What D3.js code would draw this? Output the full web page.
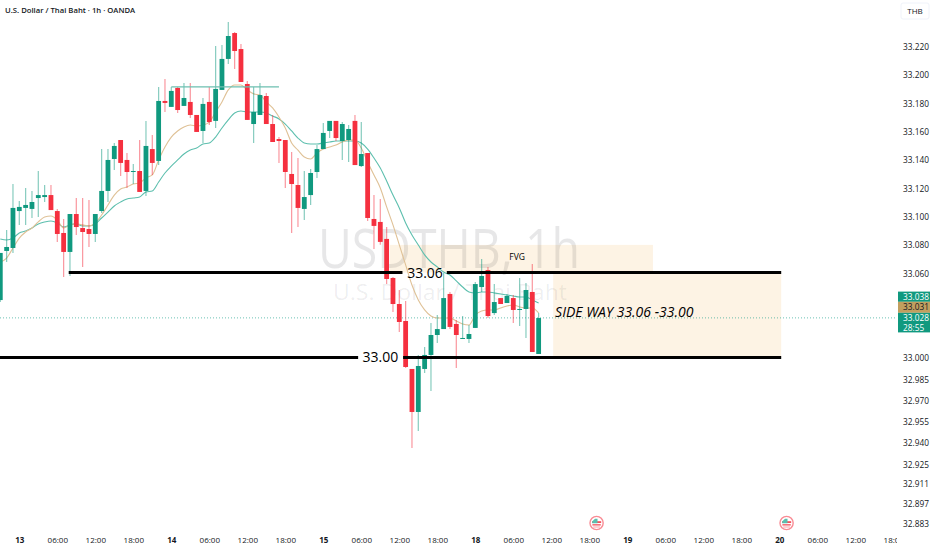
<!DOCTYPE html>
<html lang="en">
<head>
<meta charset="UTF-8">
<title>USDTHB 1h</title>
<script src="https://d3js.org/d3.v7.min.js"></script>
<style>
  html, body { margin: 0; padding: 0; background: #fff; }
  svg { display: block; }
  text { font-family: "Open Sans", "Noto Sans", sans-serif; }
</style>
</head>
<body>
<script>
// hourly candles
var opens = [33.0406,33.0753,33.0774,33.1035,33.1057,33.1050,33.1127,33.1134,33.1148,33.1035,33.0880,33.0746,33.1014,33.0915,33.0908,33.0873,33.1035,33.1177,33.1403,33.1537,33.1396,33.1311,33.1318,33.1177,33.1473,33.1389,33.1813,33.1771,33.1905,33.1778,33.1806,33.1714,33.1601,33.1806,33.1672,33.1891,33.2110,33.2293,33.2180,33.1933,33.1650,33.1714,33.1848,33.1650,33.1544,33.1537,33.1297,33.1219,33.1050,33.1148,33.1311,33.1473,33.1601,33.1672,33.1530,33.1537,33.1672,33.1353,33.1445,33.0979,33.0958,33.0838,33.0562,33.0378,33.0258,32.9919,32.9615,32.9919,33.0018,33.0159,33.0201,33.0449,33.0237,33.0131,33.0131,33.0209,33.0498,33.0618,33.0314,33.0420,33.0385,33.0420,33.0336,33.0343,33.0463,33.0025];
var highs = [33.0739,33.0901,33.1226,33.1106,33.1198,33.1177,33.1318,33.1219,33.1219,33.1050,33.0979,33.1014,33.1127,33.1127,33.1113,33.1014,33.1473,33.1473,33.1516,33.1537,33.1445,33.1367,33.1537,33.1672,33.1572,33.1912,33.1969,33.1912,33.1912,33.1940,33.1940,33.1714,33.1834,33.1912,33.2201,33.2208,33.2371,33.2300,33.2216,33.1954,33.1912,33.1940,33.1869,33.1714,33.1558,33.1537,33.1452,33.1410,33.1318,33.1332,33.1502,33.1657,33.1672,33.1672,33.1664,33.1643,33.1714,33.1664,33.1445,33.1148,33.1120,33.0922,33.0569,33.0477,33.0399,32.9919,33.0018,33.0074,33.0244,33.0300,33.0597,33.0463,33.0265,33.0293,33.0230,33.0534,33.0696,33.0640,33.0519,33.0420,33.0449,33.0442,33.0562,33.0526,33.0661,33.0314];
var lows = [33.0392,33.0675,33.0739,33.0937,33.0937,33.0986,33.0993,33.1099,33.1042,33.0817,33.0569,33.0576,33.0866,33.0640,33.0781,33.0817,33.1021,33.1099,33.1325,33.1283,33.1198,33.1226,33.1170,33.1142,33.1290,33.1360,33.1735,33.1771,33.1728,33.1778,33.1693,33.1594,33.1516,33.1643,33.1622,33.1891,33.2075,33.2039,33.1947,33.1679,33.1516,33.1714,33.1650,33.1523,33.1375,33.1198,33.0880,33.0922,33.0972,33.1078,33.1269,33.1473,33.1551,33.1530,33.1396,33.1382,33.1360,33.1346,33.0965,33.0767,33.0796,33.0520,33.0322,33.0180,32.9926,32.9360,32.9480,32.9890,32.9763,33.0102,33.0201,33.0201,32.9926,33.0131,33.0102,33.0209,33.0463,33.0279,33.0300,33.0378,33.0385,33.0244,33.0223,33.0138,33.0039,33.0025];
var closes = [33.0739,33.0781,33.1057,33.1064,33.1078,33.1099,33.1148,33.1148,33.1042,33.0873,33.0746,33.1014,33.0922,33.0887,33.0873,33.1014,33.1177,33.1396,33.1495,33.1375,33.1311,33.1318,33.1170,33.1495,33.1375,33.1813,33.1799,33.1884,33.1749,33.1834,33.1714,33.1594,33.1792,33.1664,33.1898,33.2110,33.2272,33.2166,33.1947,33.1679,33.1735,33.1855,33.1650,33.1523,33.1530,33.1311,33.1226,33.1057,33.1134,33.1304,33.1473,33.1587,33.1672,33.1551,33.1650,33.1615,33.1360,33.1438,33.0986,33.0930,33.0817,33.0555,33.0378,33.0251,32.9933,32.9615,32.9940,33.0018,33.0159,33.0201,33.0420,33.0216,33.0159,33.0138,33.0166,33.0519,33.0576,33.0293,33.0392,33.0378,33.0435,33.0336,33.0343,33.0477,33.0039,33.0279];

// the two moving averages
var maFast = [33.0675,33.0703,33.0774,33.0844,33.0887,33.0915,33.0958,33.0993,33.1000,33.0972,33.0915,33.0937,33.0944,33.0937,33.0930,33.0951,33.1007,33.1078,33.1148,33.1191,33.1205,33.1226,33.1233,33.1269,33.1290,33.1396,33.1488,33.1558,33.1601,33.1629,33.1643,33.1636,33.1643,33.1664,33.1735,33.1806,33.1891,33.1926,33.1926,33.1891,33.1863,33.1855,33.1806,33.1764,33.1700,33.1622,33.1516,33.1466,33.1417,33.1403,33.1445,33.1473,33.1488,33.1502,33.1523,33.1537,33.1537,33.1480,33.1382,33.1290,33.1198,33.1064,33.0937,33.0796,33.0654,33.0512,33.0406,33.0336,33.0293,33.0279,33.0279,33.0279,33.0258,33.0237,33.0230,33.0300,33.0329,33.0336,33.0336,33.0350,33.0364,33.0371,33.0357,33.0350,33.0350,33.0315];
var maSlow = [33.0837,33.0830,33.0844,33.0880,33.0894,33.0915,33.0944,33.0958,33.0965,33.0951,33.0922,33.0937,33.0944,33.0930,33.0930,33.0944,33.0986,33.1028,33.1071,33.1099,33.1120,33.1127,33.1134,33.1170,33.1177,33.1240,33.1304,33.1353,33.1396,33.1438,33.1466,33.1480,33.1509,33.1516,33.1558,33.1622,33.1679,33.1728,33.1742,33.1735,33.1735,33.1735,33.1728,33.1707,33.1686,33.1650,33.1601,33.1551,33.1516,33.1509,33.1509,33.1516,33.1523,33.1530,33.1530,33.1530,33.1530,33.1516,33.1473,33.1410,33.1339,33.1247,33.1148,33.1057,33.0951,33.0866,33.0795,33.0725,33.0675,33.0640,33.0604,33.0583,33.0541,33.0498,33.0463,33.0456,33.0463,33.0463,33.0456,33.0449,33.0442,33.0435,33.0428,33.0428,33.0406,33.0385];

// axis labels
var priceTicks = [33.22,33.2,33.18,33.16,33.14,33.12,33.1,33.08,33.06,33.0,32.985,32.97,32.955,32.94,32.925,32.911,32.897,32.883];
var timeBars = [3,9,15,21,27,33,39,45,51,57,63,69,75,81,87,93,99,105,111,117,123,129,135,141];
var timeLabels = ["13","06:00","12:00","18:00","14","06:00","12:00","18:00","15","06:00","12:00","18:00","18","06:00","12:00","18:00","19","06:00","12:00","18:00","20","06:00","12:00","18:00"];
var dayLabels = ["13","14","15","18","19","20"];

// US flag events on the time line
var eventBars = [94.15, 124.15];

// price tags on the right
var lastClose = 33.028;
var tagTexts = ["33.038","33.031"];
var countdown = "28:55";

var width = 932, height = 550, paneW = 897;

var x = d3.scaleLinear().domain([0, 141]).range([0.3, 893.3]);
var y = d3.scaleLinear().domain([33, 33.22]).range([357.5, 46.2]);

var svg = d3.select("body").append("svg").attr("width", width).attr("height", height);

svg.append("defs").append("clipPath").attr("id", "pane")
  .append("rect").attr("width", paneW).attr("height", height);

var pane = svg.append("g").attr("clip-path", "url(#pane)");

// drawn boxes, behind everything
function box(x0, x1, p0, p1) {
  pane.append("rect")
    .attr("x", x(x0)).attr("width", x(x1) - x(x0))
    .attr("y", y(p0)).attr("height", y(p1) - y(p0))
    .attr("fill", "#fdf3e4");
}
box(61.5, 103.05, 33.0796, 33.06);
box(87.3, 123.3, 33.06, 33.0);

// watermark shows through the boxes
pane.append("text").attr("x", 318).attr("y", 268).attr("font-size", 55)
  .attr("textLength", 262).attr("lengthAdjust", "spacingAndGlyphs")
  .attr("fill", "#131722").attr("fill-opacity", 0.1).text("USDTHB, 1h");
pane.append("text").attr("x", 333).attr("y", 300).attr("font-size", 21)
  .attr("textLength", 234).attr("lengthAdjust", "spacingAndGlyphs")
  .attr("fill", "#131722").attr("fill-opacity", 0.08).text("U.S. Dollar / Thai Baht");

// last price line
pane.append("line")
  .attr("x1", 0).attr("x2", paneW)
  .attr("y1", y(lastClose)).attr("y2", y(lastClose))
  .attr("stroke", "#089981").attr("stroke-opacity", 0.6)
  .attr("stroke-dasharray", "1,2");

// moving averages
var maLine = d3.line()
  .x(function (d, i) { return x(i); })
  .y(function (d) { return y(d); })
  .curve(d3.curveMonotoneX);

pane.append("path").attr("d", maLine(maSlow)).attr("fill", "none")
  .attr("stroke", "#5dbfae").attr("stroke-width", 1.1);
pane.append("path").attr("d", maLine(maFast)).attr("fill", "none")
  .attr("stroke", "#dfc196").attr("stroke-width", 1.1);

// candles
var upCol = "#10997f", downCol = "#f5303f";
var candles = pane.selectAll("g.candle")
  .data(d3.range(opens.length))
  .enter().append("g").attr("class", "candle");

candles.append("line")
  .attr("x1", function (i) { return x(i); })
  .attr("x2", function (i) { return x(i); })
  .attr("y1", function (i) { return y(highs[i]); })
  .attr("y2", function (i) { return y(lows[i]); })
  .attr("stroke", function (i) { return closes[i] >= opens[i] ? upCol : downCol; })
  .attr("stroke-opacity", 0.5)
  .attr("stroke-width", 1.2);

candles.append("rect")
  .attr("x", function (i) { return x(i) - 2.4; })
  .attr("width", 4.8)
  .attr("y", function (i) { return y(Math.max(opens[i], closes[i])); })
  .attr("height", function (i) { return Math.max(1, Math.abs(y(opens[i]) - y(closes[i]))); })
  .attr("fill", function (i) { return closes[i] >= opens[i] ? upCol : downCol; });

// drawn lines, over the candles
function level(x0, x1, p, col, w) {
  pane.append("line")
    .attr("x1", x(x0)).attr("x2", x(x1))
    .attr("y1", y(p)).attr("y2", y(p))
    .attr("stroke", col).attr("stroke-width", w);
}
level(27, 44, 33.1912, "#6dbfb0", 1.2);
level(10.8, 63.5, 33.06, "#000", 3);
level(70.5, 123.3, 33.06, "#000", 3);
level(-1, 56.5, 33.0, "#000", 3);
level(63.6, 123.3, 33.0, "#000", 3);

function note(bar, price, txt, size, anchor, italic) {
  pane.append("text")
    .attr("x", x(bar)).attr("y", y(price))
    .attr("dy", "0.35em")
    .attr("font-size", size)
    .attr("text-anchor", anchor)
    .attr("font-style", italic ? "italic" : "normal")
    .attr("fill", "#000")
    .text(txt);
}
note(67.06, 33.06, "33.06", 14, "middle");
note(60, 33.0, "33.00", 14, "middle");
note(81.6, 33.071, "FVG", 8.5, "middle");
note(87.6, 33.032, "SIDE WAY 33.06 -33.00", 14, "start", true);

// US flag badges
var flags = pane.selectAll("g.flag").data(eventBars).enter().append("g")
  .attr("class", "flag")
  .attr("transform", function (d) { return "translate(" + x(d) + ",523)"; });
flags.append("circle").attr("r", 6.6).attr("fill", "#fff")
  .attr("stroke", "#f98b94").attr("stroke-width", 1.4);
flags.append("rect").attr("x", -4.6).attr("y", -1.8).attr("width", 9.2).attr("height", 1.8).attr("fill", "#f5505c");
flags.append("rect").attr("x", -4.2).attr("y", 1.2).attr("width", 8.4).attr("height", 1.3).attr("fill", "#f5505c");
flags.append("rect").attr("x", -3.4).attr("y", 3.6).attr("width", 6.8).attr("height", 0.8).attr("fill", "#f98b94");
flags.append("path").attr("d", "M-4.4,0.2V-1.5L-1.6,-4.2H0.9V0.2Z").attr("fill", "#5dbfae");

// time axis
var timeAxis = d3.axisBottom(x)
  .tickValues(timeBars)
  .tickSize(0)
  .tickFormat(function (d, i) { return timeLabels[i]; });

var timeG = pane.append("g").attr("transform", "translate(0,534.5)").call(timeAxis);
timeG.select(".domain").remove();
timeG.selectAll("text")
  .attr("font-size", 8)
  .attr("fill", "#131722")
  .attr("font-weight", function (d, i) { return dayLabels.indexOf(timeLabels[i]) >= 0 ? 700 : 400; });

// price axis
var priceAxis = d3.axisRight(y)
  .tickValues(priceTicks)
  .tickSize(0)
  .tickFormat(d3.format(".3f"));

var priceG = svg.append("g").attr("transform", "translate(900,0.8)").call(priceAxis);
priceG.select(".domain").remove();
priceG.selectAll("text")
  .attr("font-size", 8.3)
  .attr("fill", "#131722")
  .attr("x", 3);

// price tags
function tag(top, h, col, txtCol, lines) {
  svg.append("rect").attr("x", 898).attr("y", top).attr("width", 32).attr("height", h)
    .attr("fill", col);
  lines.forEach(function (t, i) {
    svg.append("text").attr("x", 903).attr("y", top + 8 + i * 10)
      .attr("font-size", 8.3).attr("fill", txtCol).text(t);
  });
}
tag(291.6, 10.2, "#10997f", "#fff", [tagTexts[0]]);
tag(301.8, 11, "#c19f5f", "#131722", [tagTexts[1]]);
tag(312.8, 19.6, "#10997f", "#fff", [d3.format(".3f")(lastClose), countdown]);

// title and currency button
svg.append("text").attr("x", 5).attr("y", 13).attr("font-size", 7.7)
  .attr("font-weight", 600).attr("fill", "#131722")
  .text("U.S. Dollar / Thai Baht \u00b7 1h \u00b7 OANDA");

svg.append("rect").attr("x", 901).attr("y", 3).attr("width", 28).attr("height", 16).attr("rx", 2)
  .attr("fill", "#fff").attr("stroke", "#f0f3fa");
svg.append("text").attr("x", 915).attr("y", 14).attr("font-size", 8)
  .attr("text-anchor", "middle").attr("fill", "#131722").text("THB");
</script>
</body>
</html>
